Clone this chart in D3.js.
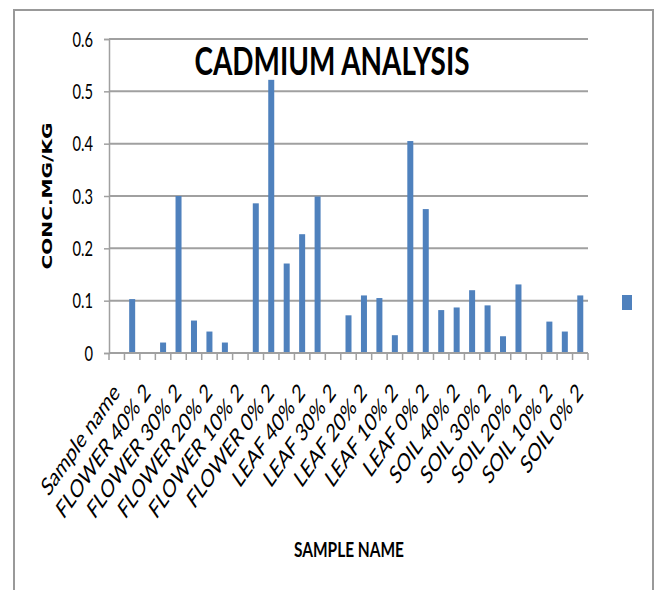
<!DOCTYPE html>
<html>
<head>
<meta charset="utf-8">
<script src="https://cdn.jsdelivr.net/npm/d3@7"></script>
<style>
  body { margin: 0; background: #fff; }
  text { font-family: Lato, "Open Sans", sans-serif; fill: #000; }
</style>
</head>
<body>
<svg id="viz"></svg>
<script>
// sample names, labels only shown on every other one (like the excel export)
var categories = ["Sample name",
  "FLOWER 40% 1", "FLOWER 40% 2", "FLOWER 30% 1", "FLOWER 30% 2",
  "FLOWER 20% 1", "FLOWER 20% 2", "FLOWER 10% 1", "FLOWER 10% 2",
  "FLOWER 0% 1", "FLOWER 0% 2", "LEAF 40% 1", "LEAF 40% 2",
  "LEAF 30% 1", "LEAF 30% 2", "LEAF 20% 1", "LEAF 20% 2",
  "LEAF 10% 1", "LEAF 10% 2", "LEAF 0% 1", "LEAF 0% 2",
  "SOIL 40% 1", "SOIL 40% 2", "SOIL 30% 1", "SOIL 30% 2",
  "SOIL 20% 1", "SOIL 20% 2", "SOIL 10% 1", "SOIL 10% 2",
  "SOIL 0% 1", "SOIL 0% 2"];
var values = [null, 0.103, null, 0.02, 0.3, 0.062, 0.041, 0.02, null,
  0.286, 0.522, 0.171, 0.227, 0.299, null, 0.072, 0.11, 0.105, 0.034,
  0.405, 0.275, 0.082, 0.087, 0.12, 0.091, 0.032, 0.131, null, 0.06,
  0.041, 0.11];
var yTicks = [0, 0.1, 0.2, 0.3, 0.4, 0.5, 0.6];

var width = 654, height = 590;
var S = 0.7; // picture is squeezed sideways
var barColor = "#4f81bd";
var grey = "#a0a0a0";

var svg = d3.select("#viz").attr("width", width).attr("height", height);

// outer frame
svg.append("rect")
    .attr("x", 14).attr("y", 10)
    .attr("width", 639).attr("height", 600)
    .style("fill", "none").style("stroke", "#999").style("stroke-width", 2);

var plotLeft = 109, plotRight = 588, plotTop = 39, plotBottom = 353;

var x = d3.scaleBand().domain(categories).range([plotLeft, plotRight]).padding(0);
var y = d3.scaleLinear().domain([0, 0.6]).range([plotBottom, plotTop]);

// gridlines
svg.append("g").selectAll("line")
    .data(yTicks.slice(1))
    .enter().append("line")
    .attr("x1", plotLeft).attr("x2", plotRight)
    .attr("y1", function(d) { return y(d); })
    .attr("y2", function(d) { return y(d); })
    .attr("stroke", grey).attr("stroke-width", 2);

// y axis
var yAxis = svg.append("g").attr("transform", "translate(" + plotLeft + ",0)")
    .call(d3.axisLeft(y).tickValues(yTicks).tickSize(5).tickPadding(0).tickFormat(function(d) { return d === 0 ? "0" : d3.format(".1f")(d); }));
yAxis.select(".domain").attr("stroke", grey).attr("stroke-width", 1.5);
yAxis.selectAll(".tick line").attr("stroke", grey).attr("stroke-width", 1.5);
yAxis.selectAll(".tick text")
    .attr("x", null).attr("dy", null)
    .attr("text-anchor", "end")
    .style("font-size", "21px")
    .attr("transform", "translate(-16,7) scale(" + S + ",1)");

// bars
var bw = 6;
svg.append("g").selectAll("rect")
    .data(values.map(function(v, i) { return {name: categories[i], v: v}; }).filter(function(d) { return d.v != null; }))
    .enter().append("rect")
    .attr("x", function(d) { return x(d.name) + x.bandwidth() / 2 - bw / 2; })
    .attr("y", function(d) { return y(d.v); })
    .attr("width", bw)
    .attr("height", function(d) { return y(0) - y(d.v); })
    .attr("fill", barColor);

// x axis line + ticks at category boundaries
svg.append("line")
    .attr("x1", plotLeft).attr("x2", plotRight).attr("y1", plotBottom).attr("y2", plotBottom)
    .attr("stroke", grey).attr("stroke-width", 2);
var bounds = categories.map(function(c) { return x(c); }).concat([plotRight]);
svg.append("g").selectAll("line")
    .data(bounds)
    .enter().append("line")
    .attr("x1", function(d) { return d; }).attr("x2", function(d) { return d; })
    .attr("y1", plotBottom).attr("y2", plotBottom + 7)
    .attr("stroke", grey).attr("stroke-width", 1.5);

// x labels, every other category
svg.append("g").selectAll("text")
    .data(categories.filter(function(c, i) { return i % 2 === 0; }))
    .enter().append("text")
    .attr("text-anchor", "end")
    .style("font-size", "25px")
    .attr("transform", function(d) {
        return "translate(" + (x(d) + x.bandwidth() / 2 + 4) + "," + (plotBottom + 41) + ") scale(" + S + ",1) rotate(-45)";
    })
    .text(function(d) { return d; });

// title
svg.append("text")
    .attr("text-anchor", "middle")
    .attr("transform", "translate(332,75) scale(" + S + ",1)")
    .attr("textLength", 275 / S).attr("lengthAdjust", "spacingAndGlyphs")
    .style("font-size", "39px").style("font-weight", "bold")
    .text("CADMIUM ANALYSIS");

// axis titles
svg.append("text")
    .attr("text-anchor", "middle")
    .attr("transform", "translate(349,557) scale(" + S + ",1)")
    .attr("textLength", 110 / S).attr("lengthAdjust", "spacingAndGlyphs")
    .style("font-size", "20px").style("font-weight", "bold")
    .text("SAMPLE NAME");

svg.append("text")
    .attr("text-anchor", "middle")
    .attr("transform", "translate(52,196) scale(" + S + ",1) rotate(-90)")
    .attr("textLength", 147).attr("lengthAdjust", "spacingAndGlyphs")
    .style("font-family", "'DejaVu Sans', Verdana, sans-serif")
    .style("font-size", "20px").style("font-weight", "bold")
    .text("CONC.MG/KG");

// legend marker (series has no name)
svg.append("rect")
    .attr("x", 622).attr("y", 295).attr("width", 10).attr("height", 15)
    .attr("fill", barColor);
</script>
</body>
</html>
